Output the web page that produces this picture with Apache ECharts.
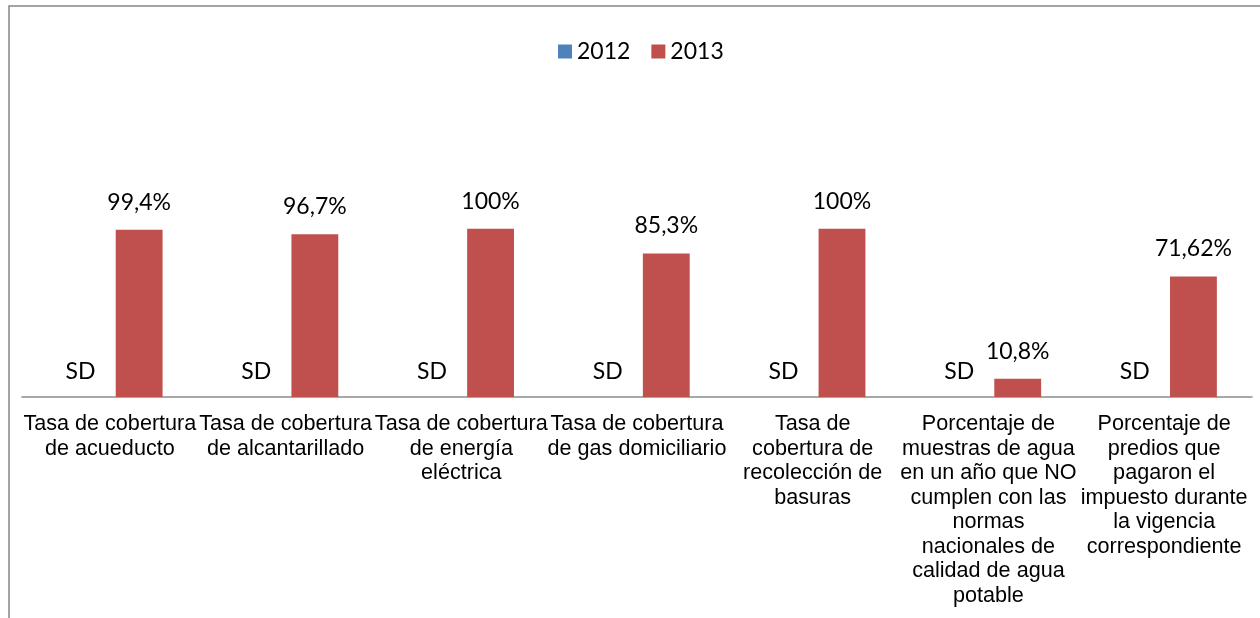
<!DOCTYPE html>
<html>
<head>
<meta charset="utf-8">
<script src="https://cdn.jsdelivr.net/npm/echarts@6/dist/echarts.min.js"></script>
<style>
  html, body { margin: 0; padding: 0; background: #fff; }
  #chart { width: 1260px; height: 618px; }
</style>
</head>
<body>
<div id="chart"></div>
<script>
// categorias (con saltos de linea como en el original)
const categories = [
  'Tasa de cobertura\nde acueducto',
  'Tasa de cobertura\nde alcantarillado',
  'Tasa de cobertura\nde energía\neléctrica',
  'Tasa de cobertura\nde gas domiciliario',
  'Tasa de\ncobertura de\nrecolección de\nbasuras',
  'Porcentaje de\nmuestras de agua\nen un año que NO\ncumplen con las\nnormas\nnacionales de\ncalidad de agua\npotable',
  'Porcentaje de\npredios que\npagaron el\nimpuesto durante\nla vigencia\ncorrespondiente'
];
const seriesNames = ['2012', '2013'];
// 2012 sin dato (SD)
const values2012 = [0, 0, 0, 0, 0, 0, 0];
const labels2012 = ['SD', 'SD', 'SD', 'SD', 'SD', 'SD', 'SD'];
const values2013 = [99.4, 96.7, 100, 85.3, 100, 10.8, 71.62];

const chart = echarts.init(document.getElementById('chart'));

const labelFont = 'Lato, "Open Sans", sans-serif';

chart.setOption({
  backgroundColor: '#fff',
  animation: false,
  graphic: [
    {
      type: 'rect',
      shape: { x: 9, y: 6, width: 1400, height: 800 },
      style: { fill: 'none', stroke: '#878787', lineWidth: 1.5 },
      silent: true
    }
  ],
  legend: {
    data: seriesNames,
    left: 553,
    top: 35,
    icon: 'rect',
    itemWidth: 14,
    itemHeight: 14,
    itemGap: 21,
    textStyle: { fontFamily: labelFont, fontSize: 23, color: '#000' }
  },
  grid: { left: 22, right: 8, top: 195, bottom: 221, containLabel: false },
  xAxis: {
    type: 'category',
    data: categories,
    axisLine: { lineStyle: { color: '#8c8c8c', width: 1.5 } },
    axisTick: { show: false },
    axisLabel: {
      interval: 0,
      margin: 15,
      fontFamily: '"Liberation Sans", Arial, sans-serif',
      fontSize: 21.6,
      lineHeight: 24.5,
      color: '#000',
      align: 'center'
    }
  },
  yAxis: {
    type: 'value',
    min: 0,
    max: 120,
    show: false,
    splitLine: { show: false }
  },
  series: [
    {
      name: seriesNames[0],
      type: 'bar',
      data: values2012,
      barGap: '25%',
      barCategoryGap: '40%',
      itemStyle: { color: '#4F81BD' },
      label: {
        show: true,
        position: 'top',
        distance: 14,
        fontFamily: labelFont,
        fontSize: 23,
        color: '#000',
        formatter: (p) => labels2012[p.dataIndex]
      }
    },
    {
      name: seriesNames[1],
      type: 'bar',
      data: values2013,
      barGap: '25%',
      barCategoryGap: '40%',
      itemStyle: { color: '#C0504D' },
      label: {
        show: true,
        position: 'top',
        distance: 16,
        fontFamily: labelFont,
        fontSize: 23,
        color: '#000',
        formatter: (p) => String(p.value).replace('.', ',') + '%'
      }
    }
  ]
});
</script>
</body>
</html>
